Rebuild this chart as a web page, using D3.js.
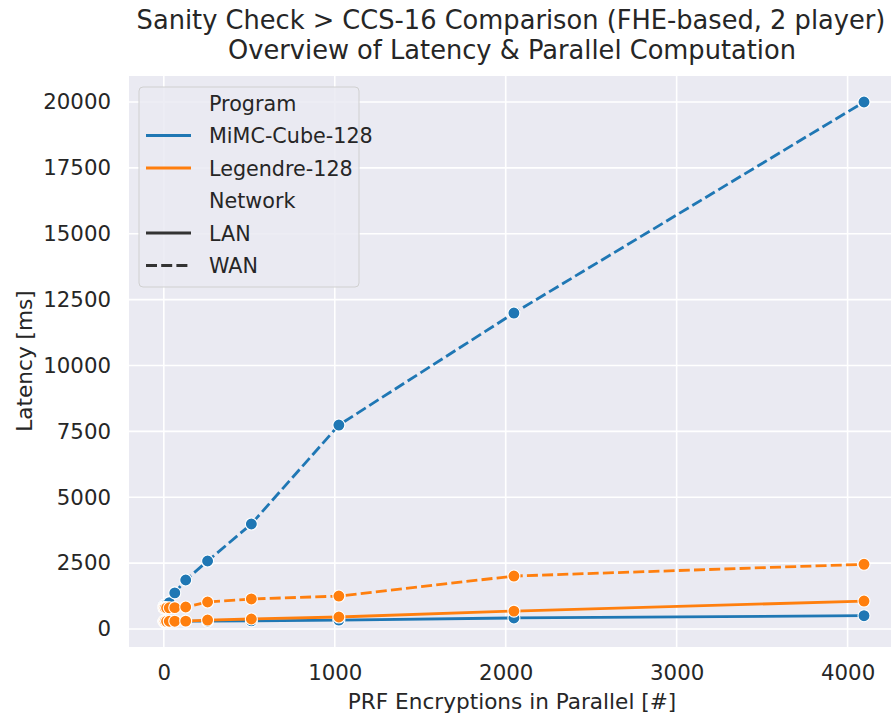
<!DOCTYPE html>
<html>
<head>
<meta charset="utf-8">
<script src="https://cdn.jsdelivr.net/npm/d3@7"></script>
<style>
  body { margin: 0; background: #fff; }
  svg text { font-family: "DejaVu Sans", sans-serif; fill: #262626; }
</style>
</head>
<body>
<div id="chart"></div>
<script>
// data
var parallel = [1, 2, 4, 8, 16, 32, 64, 128, 256, 512, 1024, 2048, 4096];
var mimcLAN = [290, 290, 290, 290, 292, 293, 295, 297, 300, 310, 340, 420, 505];
var mimcWAN = [880, 890, 900, 910, 930, 1000, 1370, 1860, 2580, 3985, 7740, 11990, 20000];
var legLAN = [290, 290, 290, 290, 292, 294, 296, 300, 340, 380, 455, 680, 1060];
var legWAN = [800, 800, 800, 800, 802, 805, 810, 835, 1025, 1140, 1250, 2010, 2455];
var xTicks = [0, 1000, 2000, 3000, 4000];
var yTicks = [0, 2500, 5000, 7500, 10000, 12500, 15000, 17500, 20000];
var programs = ["MiMC-Cube-128", "Legendre-128"];
var networks = ["LAN", "WAN"];
var colors = ["#1f77b4", "#ff7f0e"];

var series = [
  {prog: 0, net: 0, vals: mimcLAN},
  {prog: 0, net: 1, vals: mimcWAN},
  {prog: 1, net: 0, vals: legLAN},
  {prog: 1, net: 1, vals: legWAN}
];

var W = 891, H = 716;
var m = {left: 129, right: 899, top: 76, bottom: 647};
var dash = "11,4.2";

var svg = d3.select("#chart").append("svg")
    .attr("width", W).attr("height", H);

var x = d3.scaleLinear().domain([-203.75, 4300.75]).range([m.left, m.right]);
var y = d3.scaleLinear().domain([-683, 20987]).range([m.bottom, m.top]);

svg.append("rect")
    .attr("x", m.left).attr("y", m.top)
    .attr("width", m.right - m.left).attr("height", m.bottom - m.top)
    .attr("fill", "#eaeaf2");

// grid
svg.append("g").selectAll("line").data(xTicks).enter().append("line")
    .attr("x1", d => x(d)).attr("x2", d => x(d))
    .attr("y1", m.top).attr("y2", m.bottom)
    .attr("stroke", "#fff").attr("stroke-width", 1.6);
svg.append("g").selectAll("line").data(yTicks).enter().append("line")
    .attr("x1", m.left).attr("x2", m.right)
    .attr("y1", d => y(d)).attr("y2", d => y(d))
    .attr("stroke", "#fff").attr("stroke-width", 1.6);

// axes (labels only, seaborn style)
var xAxis = svg.append("g")
    .attr("transform", "translate(0," + m.bottom + ")")
    .call(d3.axisBottom(x).tickValues(xTicks).tickSize(0).tickPadding(18).tickFormat(d3.format("d")));
var yAxis = svg.append("g")
    .attr("transform", "translate(" + m.left + ",0)")
    .call(d3.axisLeft(y).tickValues(yTicks).tickSize(0).tickPadding(18).tickFormat(d3.format("d")));
[xAxis, yAxis].forEach(function(a) {
  a.select(".domain").remove();
  a.selectAll("text").attr("font-size", 21.3).attr("font-family", "DejaVu Sans").attr("fill", "#262626");
});

// lines and markers
var line = d3.line().x((d, i) => x(parallel[i])).y(d => y(d));
series.forEach(function(s) {
  var g = svg.append("g");
  g.append("path")
      .attr("d", line(s.vals))
      .attr("fill", "none")
      .attr("stroke", colors[s.prog])
      .attr("stroke-width", 2.8)
      .attr("stroke-dasharray", s.net === 1 ? dash : null);
  g.selectAll("circle").data(s.vals).enter().append("circle")
      .attr("cx", (d, i) => x(parallel[i]))
      .attr("cy", d => y(d))
      .attr("r", 6)
      .attr("fill", colors[s.prog])
      .attr("stroke", "#fff")
      .attr("stroke-width", 1.1);
});

// titles
svg.append("text").attr("x", 511).attr("y", 28.5).attr("text-anchor", "middle")
    .attr("font-size", 25.7).text("Sanity Check > CCS-16 Comparison (FHE-based, 2 player)");
svg.append("text").attr("x", 512).attr("y", 58.5).attr("text-anchor", "middle")
    .attr("font-size", 25.7).text("Overview of Latency & Parallel Computation");
svg.append("text").attr("x", 512).attr("y", 709).attr("text-anchor", "middle")
    .attr("font-size", 21.6).text("PRF Encryptions in Parallel [#]");
svg.append("text").attr("transform", "translate(32,361) rotate(-90)").attr("text-anchor", "middle")
    .attr("font-size", 21.6).text("Latency [ms]");

// legend
var lg = svg.append("g").attr("transform", "translate(139,87)");
lg.append("rect").attr("width", 220).attr("height", 200).attr("rx", 4)
    .attr("fill", "#eaeaf2").attr("fill-opacity", 0.85)
    .attr("stroke", "#d0d0d0").attr("stroke-width", 1);
var entries = [
  {label: "Program"},
  {label: programs[0], color: colors[0]},
  {label: programs[1], color: colors[1]},
  {label: "Network"},
  {label: networks[0], color: "#333333"},
  {label: networks[1], color: "#333333", dashed: true}
];
entries.forEach(function(e, i) {
  var yy = 16 + i * 32.5;
  if (e.color) {
    lg.append("line").attr("x1", 7).attr("x2", 52).attr("y1", yy).attr("y2", yy)
        .attr("stroke", e.color).attr("stroke-width", 2.8)
        .attr("stroke-dasharray", e.dashed ? dash : null);
  }
  lg.append("text").attr("x", 70).attr("y", yy + 7.5).attr("font-size", 20.7).text(e.label);
});
</script>
</body>
</html>
